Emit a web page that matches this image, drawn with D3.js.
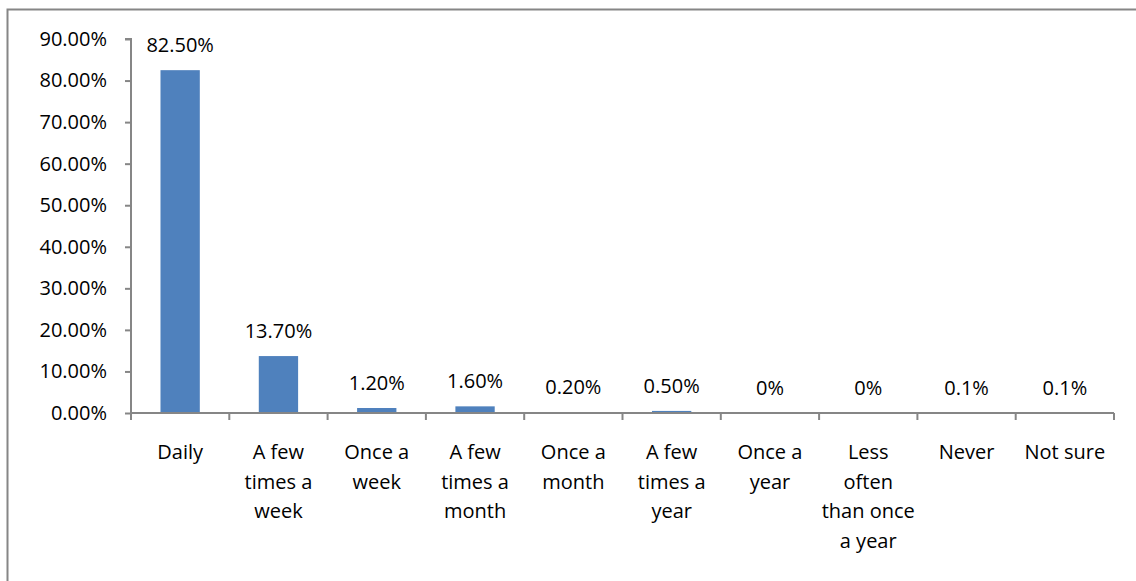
<!DOCTYPE html>
<html>
<head>
<meta charset="utf-8">
<script src="https://cdn.jsdelivr.net/npm/d3@7"></script>
<style>
  html, body { margin: 0; padding: 0; background: #fff; }
  svg { display: block; }
  text { font-family: "Open Sans", "Noto Sans", sans-serif; fill: #000; }
</style>
</head>
<body>
<svg id="chart" width="1136" height="581"></svg>
<script>
const categories = [
  ["Daily"],
  ["A few", "times a", "week"],
  ["Once a", "week"],
  ["A few", "times a", "month"],
  ["Once a", "month"],
  ["A few", "times a", "year"],
  ["Once a", "year"],
  ["Less", "often", "than once", "a year"],
  ["Never"],
  ["Not sure"]
];
const values = [82.5, 13.7, 1.2, 1.6, 0.2, 0.5, 0, 0, 0.1, 0.1];
const valueLabels = ["82.50%", "13.70%", "1.20%", "1.60%", "0.20%", "0.50%", "0%", "0%", "0.1%", "0.1%"];
const yTicks = [0, 10, 20, 30, 40, 50, 60, 70, 80, 90];

(function () {
const svg = d3.select("#chart");
const mLeft = 131, mRight = 1114, mTop = 39, mBottom = 413;
const fontSize = 20;
const axisColor = "#868686";

// outer frame (cropped on right & bottom)
svg.append("rect")
  .attr("x", 7.5).attr("y", 9.5)
  .attr("width", 1140).attr("height", 600)
  .attr("fill", "none").attr("stroke", axisColor).attr("stroke-width", 2);

const idx = d3.range(categories.length);
const x = d3.scaleBand().domain(idx).range([mLeft, mRight]).paddingInner(0.6).paddingOuter(0.3);
const xOuter = d3.scaleBand().domain(idx).range([mLeft, mRight]);
const y = d3.scaleLinear().domain([0, 90]).range([mBottom, mTop]);

// y axis
const yAxis = svg.append("g").attr("transform", `translate(${mLeft},0)`)
  .call(d3.axisLeft(y).tickValues(yTicks).tickSize(6).tickPadding(18)
    .tickFormat(d => d.toFixed(2) + "%"));
yAxis.select(".domain").attr("stroke", axisColor).attr("stroke-width", 2)
  .attr("d", `M-6,${mTop}H0V${mBottom + 7}`);
yAxis.selectAll(".tick line").attr("stroke", axisColor).attr("stroke-width", 2);
yAxis.selectAll(".tick text").attr("font-size", fontSize).attr("font-family", "Open Sans").attr("fill", "#000");

// bars
svg.append("g").selectAll("rect").data(values).join("rect")
  .attr("x", (d, i) => x(i))
  .attr("width", x.bandwidth())
  .attr("y", d => y(d))
  .attr("height", d => y(0) - y(d))
  .attr("fill", "#4F81BD");

// x axis line and ticks at category boundaries
const xg = svg.append("g");
xg.append("line").attr("x1", mLeft).attr("x2", mRight).attr("y1", mBottom).attr("y2", mBottom)
  .attr("stroke", axisColor).attr("stroke-width", 2);
const bounds = idx.map(i => xOuter(i)).concat([mRight]);
xg.selectAll("line.t").data(bounds).join("line").attr("class", "t")
  .attr("x1", d => d).attr("x2", d => d).attr("y1", mBottom).attr("y2", mBottom + 7)
  .attr("stroke", axisColor).attr("stroke-width", 2);

// value labels
svg.append("g").selectAll("text").data(values).join("text")
  .attr("x", (d, i) => xOuter(i) + xOuter.bandwidth() / 2)
  .attr("y", d => y(d) - 18)
  .attr("text-anchor", "middle")
  .attr("font-size", fontSize)
  .text((d, i) => valueLabels[i]);

// category labels
const cg = svg.append("g");
categories.forEach((lines, i) => {
  const cx = xOuter(i) + xOuter.bandwidth() / 2;
  const t = cg.append("text")
    .attr("x", cx)
    .attr("y", 459)
    .attr("text-anchor", "middle")
    .attr("font-size", fontSize);
  lines.forEach((ln, j) => {
    t.append("tspan").attr("x", cx)
      .attr("dy", j === 0 ? 0 : 29.5).text(ln);
  });
});
})();
</script>
</body>
</html>
